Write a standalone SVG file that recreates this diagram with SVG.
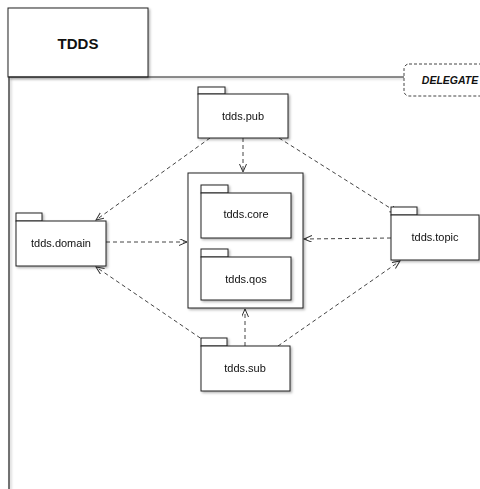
<svg xmlns="http://www.w3.org/2000/svg" width="480" height="489" viewBox="0 0 480 489">
<style>
.box{fill:#fff;stroke:#222;stroke-width:1}
.lbl{font-family:"Liberation Sans",Arial,sans-serif;font-size:11px;fill:#111;text-anchor:middle;dominant-baseline:central}
.dep{fill:none;stroke:#444;stroke-width:1;stroke-dasharray:4 3;marker-end:url(#arr)}
</style>
<defs>
<filter id="sh" x="-10%" y="-10%" width="130%" height="130%">
<feDropShadow dx="1.5" dy="1.5" stdDeviation="1" flood-color="#000" flood-opacity="0.3"/>
</filter>
<marker id="arr" markerWidth="10" markerHeight="8" refX="8" refY="3.5" orient="auto" markerUnits="userSpaceOnUse">
<path d="M0,0 L8,3.5 L0,7" fill="none" stroke="#333" stroke-width="1"/>
</marker>
</defs>
<rect width="480" height="489" fill="#fff"/>
<g id="frame">
<rect x="8" y="8" width="140" height="69" class="box" filter="url(#sh)"/>
<path d="M9,489 L9,77 L404,77" fill="none" stroke="#222" stroke-width="1.2" filter="url(#sh)"/>
<text x="78" y="43" class="lbl" style="font-size:15px;font-weight:bold">TDDS</text>
</g>
<g id="delegate">
<rect x="404" y="64" width="90" height="32" rx="5" fill="#fff" stroke="#444" stroke-width="1" stroke-dasharray="3 2"/>
<text x="450" y="80" class="lbl" style="font-size:10.5px;font-style:italic;font-weight:bold">DELEGATE</text>
</g>
<g id="connectors">
<line x1="243" y1="138" x2="243" y2="172" class="dep"/>
<line x1="210" y1="138" x2="96" y2="220" class="dep"/>
<line x1="279" y1="138" x2="398" y2="213" class="dep"/>
<line x1="106" y1="242" x2="187" y2="242" class="dep"/>
<line x1="391" y1="238" x2="304" y2="239" class="dep"/>
<line x1="212" y1="346" x2="96" y2="267" class="dep"/>
<line x1="278" y1="346" x2="400" y2="261" class="dep"/>
<line x1="245" y1="346" x2="245" y2="309" class="dep"/>
<line x1="247" y1="257" x2="247" y2="239" class="dep"/>
</g>
<g id="container">
<rect x="188" y="173" width="115" height="135" class="box" filter="url(#sh)"/>
</g>
<g id="pub" filter="url(#sh)">
<rect x="198" y="87" width="27" height="7" class="box"/>
<rect x="198" y="94" width="90" height="44" class="box"/>
<text x="243" y="116" class="lbl">tdds.pub</text>
</g>
<g id="core" filter="url(#sh)">
<rect x="201" y="185" width="27" height="8" class="box"/>
<rect x="201" y="193" width="90" height="45" class="box"/>
<text x="246" y="214" class="lbl">tdds.core</text>
</g>
<g id="qos" filter="url(#sh)">
<rect x="201" y="249" width="27" height="8" class="box"/>
<rect x="201" y="257" width="90" height="43" class="box"/>
<text x="246" y="279" class="lbl">tdds.qos</text>
</g>
<g id="domain" filter="url(#sh)">
<rect x="16" y="213" width="26" height="8" class="box"/>
<rect x="16" y="221" width="90" height="45" class="box"/>
<text x="61" y="243" class="lbl">tdds.domain</text>
</g>
<g id="topic" filter="url(#sh)">
<rect x="391" y="207" width="26" height="8" class="box"/>
<rect x="391" y="215" width="88" height="45" class="box"/>
<text x="435" y="237" class="lbl">tdds.topic</text>
</g>
<g id="sub" filter="url(#sh)">
<rect x="201" y="338" width="26" height="8" class="box"/>
<rect x="201" y="346" width="89" height="45" class="box"/>
<text x="245" y="368" class="lbl">tdds.sub</text>
</g>
</svg>
